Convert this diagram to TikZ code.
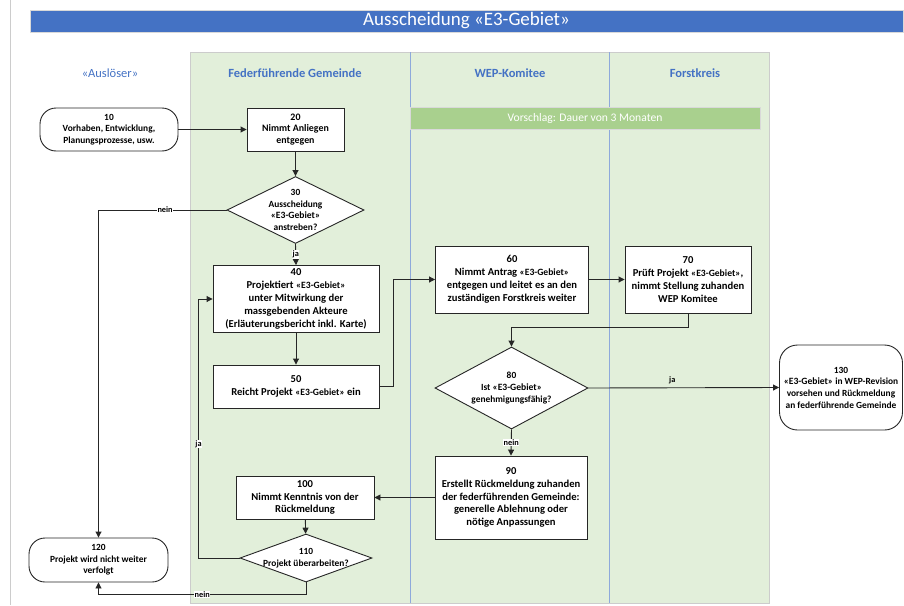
\documentclass[tikz,border=0pt]{standalone}
\usepackage{fontspec}
\setmainfont{Carlito}
\usetikzlibrary{shapes.geometric,arrows.meta}
\definecolor{titleblue}{HTML}{4472C4}
\definecolor{lanegreen}{HTML}{E2EFDA}
\definecolor{bargreen}{HTML}{A9D08E}
\definecolor{divblue}{HTML}{8EA9DB}
\newcommand{\egebiet}{{\fontsize{9.6}{11.7}\selectfont «E3-Gebiet»}}
\tikzset{
  proc/.style={draw=black!85, line width=0.9pt, fill=white, align=center, inner sep=1pt,
    font=\bfseries\fontsize{9.4}{11.7}\selectfont},
  bigproc/.style={proc, font=\bfseries\fontsize{10.6}{12.9}\selectfont},
  term/.style={proc, rounded corners=16pt},
  decide/.style={proc, diamond, inner sep=-6pt},
  flow/.style={draw=black!85, line width=0.9pt, -{Triangle[length=6pt,width=6pt]}},
  lbl/.style={fill=white, inner sep=0.6pt, font=\bfseries\fontsize{8.3}{9}\selectfont},
  lanehead/.style={text=titleblue, font=\bfseries\fontsize{12.5}{14}\selectfont}
}
\begin{document}
\begin{tikzpicture}[x=1pt, y=-1pt]
      \useasboundingbox (0,0) rectangle (904,605);
      \draw[black!20] (10.5,0) -- (10.5,605);
      \node (title)[fill=titleblue, draw=black!15, minimum width=873pt, minimum height=22pt, inner sep=0pt, text=white, font=\fontsize{19}{22}\selectfont] at (466.5,21) {Ausscheidung «E3-Gebiet»};
      \filldraw[fill=lanegreen, draw=black!20] (190,52) rectangle (769,603);
      \draw[divblue, line width=0.9pt] (410,52) -- (410,603);
      \draw[divblue, line width=0.9pt] (609.5,52) -- (609.5,603);
      \node (h0)[lanehead, font=\fontsize{12.5}{14}\selectfont] at (110,73) {«Auslöser»};
      \node (h1)[lanehead] at (295,73) {Federführende Gemeinde};
      \node (h2)[lanehead] at (510,73) {WEP-Komitee};
      \node (h3)[lanehead] at (695,73) {Forstkreis};
      \node (bar)[fill=bargreen, draw=black!15, minimum width=350pt, minimum height=22pt, inner sep=0pt, text=white, font=\fontsize{11.6}{13}\selectfont] at (585,118) {Vorschlag: Dauer von 3 Monaten};
      \node (n10)[term, minimum width=138pt, minimum height=43pt] at (109,129.5) {10\\Vorhaben, Entwicklung,\\Planungsprozesse, usw.};
      \node (n20)[proc, font=\bfseries\fontsize{9.9}{11.5}\selectfont, minimum width=97pt, minimum height=43pt] at (295.5,129.5) {20\\Nimmt Anliegen\\entgegen};
      \node (n30)[decide, aspect=2.05, minimum width=137pt, minimum height=67pt] at (295.5,210) {30\\Ausscheidung\\\egebiet\\anstreben?};
      \node (n40)[bigproc, minimum width=166pt, minimum height=67pt] at (296,299) {40\\Projektiert \egebiet\\unter Mitwirkung der\\massgebenden Akteure\\(Erläuterungsbericht inkl. Karte)};
      \node (n50)[bigproc, minimum width=166pt, minimum height=43pt] at (296,386.5) {50\\Reicht Projekt \egebiet{} ein};
      \node (n60)[bigproc, minimum width=153pt, minimum height=67pt] at (512,279.5) {60\\Nimmt Antrag \egebiet\\entgegen und leitet es an den\\zuständigen Forstkreis weiter};
      \node (n70)[bigproc, minimum width=126pt, minimum height=67pt] at (688,279.5) {70\\Prüft Projekt \egebiet,\\nimmt Stellung zuhanden\\WEP Komitee};
      \node (n80)[decide, aspect=1.85, minimum width=153pt, minimum height=82pt] at (511.5,388) {80\\Ist \egebiet\\genehmigungsfähig?};
      \node (n90)[bigproc, minimum width=152pt, minimum height=83pt] at (511,497.5) {90\\Erstellt Rückmeldung zuhanden\\der federführenden Gemeinde:\\generelle Ablehnung oder\\nötige Anpassungen};
      \node (n100)[bigproc, minimum width=138pt, minimum height=43pt] at (305,497.5) {100\\Nimmt Kenntnis von der\\Rückmeldung};
      \node (n110)[decide, aspect=2.7, minimum width=132pt, minimum height=48pt] at (306,558) {110\\Projekt überarbeiten?};
      \node (n120)[term, minimum width=139pt, minimum height=44pt] at (98.5,560) {120\\Projekt wird nicht weiter\\verfolgt};
      \node (n130)[term, rounded corners=18pt, inner sep=0pt, minimum width=123pt, minimum height=85pt] at (841,387.5) {130\\\egebiet{} in WEP-Revision\\vorsehen und Rückmeldung\\an federführende Gemeinde};
      \draw[flow] (n10) -- (n20) [] {};
      \draw[flow] (n20) -- (n30) [] {};
      \draw[flow] (n30.west) -| node[lbl, pos=0.24] (l30n) {nein} (n120.north);
      \draw[flow] (n30.south) -- node[lbl] (l30j) {ja} (n40.north);
      \draw[flow] (n40) -- (n50) [] {};
      \draw[flow] (n50.east) -- ++(14,0) |- (n60.west);
      \draw[flow] (n60) -- (n70) [] {};
      \draw[flow] (n70.south) -- ++(0,14) -| (n80.north);
      \draw[flow] (n80.east) -- node[lbl, fill=none, above, pos=0.44, yshift=3pt] (l80j) {ja} (n130.west);
      \draw[flow] (n80.south) -- node[lbl] (l80n) {nein} (n90.north);
      \draw[flow] (n90.west) -- (n100.east) [] {};
      \draw[flow] (n100) -- (n110) [] {};
      \draw[flow] (n110.west) -- ++(-41,0) |- node[lbl, pos=0.22] (l110j) {ja} (n40.west);
      \draw[flow] (n110.south) -- ++(0,12) -| node[lbl, pos=0.25] (l110n) {nein} (n120.south);
\end{tikzpicture}
\end{document}
